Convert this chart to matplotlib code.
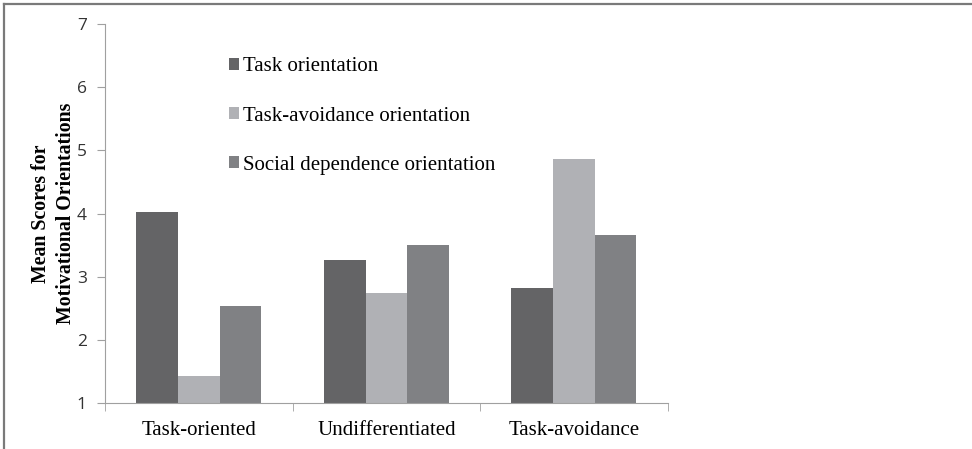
import numpy as np
import matplotlib.pyplot as plt
from matplotlib.lines import Line2D

categories = ['Task-oriented', 'Undifferentiated', 'Task-avoidance']
series = ['Task orientation', 'Task-avoidance orientation', 'Social dependence orientation']
task = [4.03, 3.27, 2.82]
avoid = [1.43, 2.74, 4.87]
social = [2.54, 3.50, 3.66]
colors = ['#646466', '#b0b1b5', '#808184']

serif = ['Liberation Serif', 'DejaVu Serif']

fig = plt.figure(figsize=(9.72, 4.49), dpi=100)
ax = fig.add_axes([0.108, 0.1024, 0.579, 0.8441])

x = np.arange(len(categories))
w = 0.222
for i, (vals, lab) in enumerate(zip([task, avoid, social], series)):
    ax.bar(x + (i - 1) * w, np.array(vals) - 1, w, bottom=1, color=colors[i], label=lab)

ax.set_xlim(-0.5, 2.5)
ax.set_ylim(1, 7)
ax.set_yticks(range(1, 8))
ax.set_xticks(x)
ax.set_xticklabels(categories, fontfamily=serif, fontsize=15)
ax.set_xticks([-0.5, 0.5, 1.5, 2.5], minor=True)
ax.tick_params(axis='x', which='major', length=0, pad=13)
ax.tick_params(axis='x', which='minor', length=6, color='#a0a0a0', direction='out')
ax.tick_params(axis='y', length=6, color='#a0a0a0', labelsize=12.5, labelcolor='#333333', pad=7)
for lbl in ax.get_yticklabels():
    lbl.set_fontfamily(['Open Sans', 'DejaVu Sans'])

for s in ['top', 'right']:
    ax.spines[s].set_visible(False)
ax.spines['left'].set_color('#a0a0a0')
ax.spines['bottom'].set_color('#a0a0a0')

ax.set_ylabel('Mean Scores for\nMotivational Orientations', fontfamily=serif,
              fontweight='bold', fontsize=14.3, linespacing=1.3, labelpad=1)

leg = ax.legend(loc='upper left', bbox_to_anchor=(0.216, 0.914), bbox_transform=fig.transFigure,
                frameon=False, prop={'family': serif, 'size': 15},
                handlelength=0.5, handleheight=0.5, handletextpad=0.2, labelspacing=1.45)

# border lines of the original figure frame
fig.add_artist(Line2D([0.0045, 0.0045], [0, 0.99], color='#7a7a7a', lw=1.6, transform=fig.transFigure))
fig.add_artist(Line2D([0.0045, 1.0], [0.99, 0.99], color='#7a7a7a', lw=1.6, transform=fig.transFigure))

fig.savefig('out.png', dpi=100)
